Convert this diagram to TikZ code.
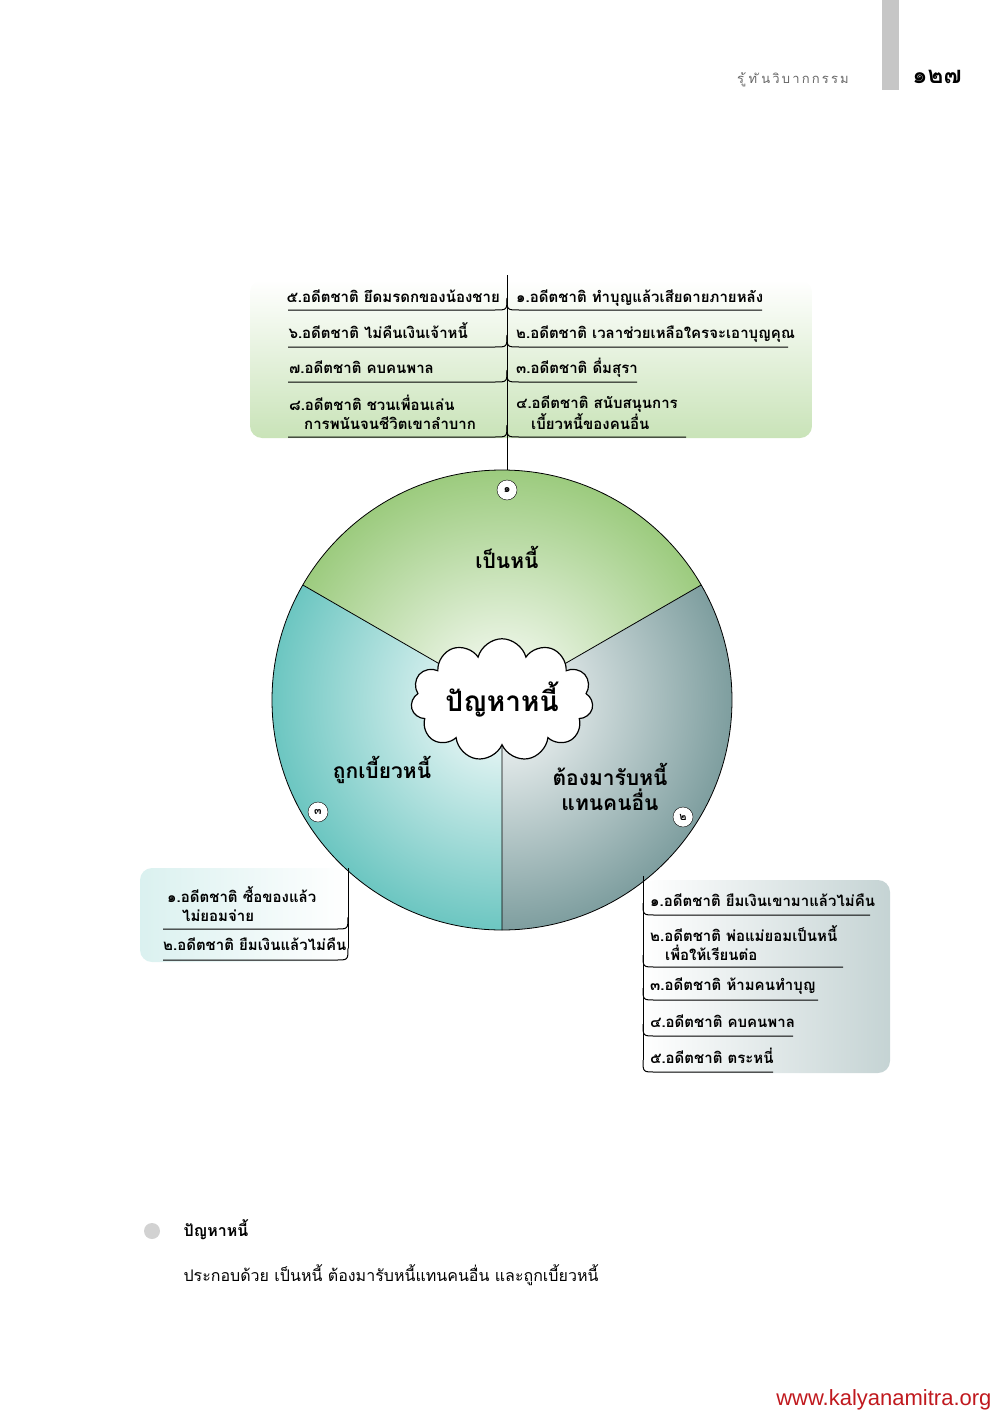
\documentclass[tikz,border=0pt]{standalone}
\usepackage{fontspec}
\usetikzlibrary{shapes.symbols}
\newfontfamily\thai[Script=Thai]{Loma}
\setsansfont{Liberation Sans}
\definecolor{dtgreen}{HTML}{9CCB7E}
\definecolor{dtgray}{HTML}{7E9E9F}
\definecolor{dtteal}{HTML}{6CC6C1}
\definecolor{dtbox}{HTML}{C9E3B8}
\definecolor{dturl}{HTML}{C0191E}
\tikzset{
  item/.style={font=\thai\bfseries\fontsize{15}{19}\selectfont, anchor=base west, inner sep=0pt, align=left},
  itemr/.style={item, anchor=base east, align=right},
  sector/.style={font=\thai\bfseries\fontsize{21}{25}\selectfont, align=center},
  num/.style={circle, draw, fill=white, minimum size=20pt, inner sep=0pt, font=\thai\bfseries\fontsize{11}{11}\selectfont},
  uline/.style={line width=1pt},
}
% underline joining a stem: right side / left side
\newcommand\rline[3]{\draw[uline] (#1,#2-12) .. controls (#1,#2) .. (#1+12,#2) -- (#3,#2);}
\newcommand\lline[3]{\draw[uline] (#3,#2) -- (#1-12,#2) .. controls (#1,#2) .. (#1,#2-12);}
\begin{document}
\begin{tikzpicture}[x=1pt,y=-1pt]
  \useasboundingbox (0,0) rectangle (1000,1415);
  % header
  \fill[gray!45] (882,0) rectangle (899,90);
  \node[font=\thai\fontsize{13}{13}\selectfont, text=gray!80!black] (title) at (793,80) {ร\,ู้\,ท\,ั\,น\,วิ\,บ\,า\,ก\,ก\,ร\,ร\,ม};
  \node[font=\thai\bfseries\fontsize{24}{24}\selectfont] (page) at (937,77) {๑๒๗};

  % boxes
  \shade[top color=white, bottom color=dtbox, rounded corners=12pt] (250,280) rectangle (812,438);
  \shade[left color=dtteal!25, right color=white, rounded corners=12pt] (140,868) rectangle (348,962);
  \shade[left color=white, right color=dtgray!45, rounded corners=12pt] (643,880) rectangle (890,1073);

  % wheel (y axis points down, so angles run clockwise)
  \coordinate (c) at (502,700);
  \begin{scope}
    \clip (c) -- ++(210:230) arc[start angle=210, end angle=330, radius=230] -- cycle;
    \shade[inner color=white, outer color=dtgreen] (c) circle[radius=230];
  \end{scope}
  \begin{scope}
    \clip (c) -- ++(-30:230) arc[start angle=-30, end angle=90, radius=230] -- cycle;
    \shade[inner color=white, outer color=dtgray] (c) circle[radius=230];
  \end{scope}
  \begin{scope}
    \clip (c) -- ++(90:230) arc[start angle=90, end angle=210, radius=230] -- cycle;
    \shade[inner color=white, outer color=dtteal] (c) circle[radius=230];
  \end{scope}
  \draw[thick] (c) circle[radius=230];
  \draw[thick] (c) -- ++(-30:230) (c) -- ++(210:230) (c) -- ++(90:230);

  \node[cloud, cloud puffs=11, aspect=1.9, draw, very thick, fill=white, minimum width=170pt, minimum height=110pt,
        font=\thai\bfseries\fontsize{28}{30}\selectfont] (core) at (c) {ปัญหาหนี้};

  \node[sector] (debt) at (507,557) {เป็นหนี้};
  \node[sector] (other) at (610,787) {ต้องมารับหนี้\\แทนคนอื่น};
  \node[sector] (cheat) at (382,770) {ถูกเบี้ยวหนี้};

  % top branch
  \coordinate (tstem) at (507,275);
  \coordinate (tfoot) at (507,470);
  \draw[uline] (tstem) -- (tfoot);
  \node[num] (n1) at (507,490) {๑};
  \node[item] (t1) at (516,302) {๑.อดีตชาติ ทำบุญแล้วเสียดายภายหลัง};
  \node[item] (t2) at (516,338) {๒.อดีตชาติ เวลาช่วยเหลือใครจะเอาบุญคุณ};
  \node[item] (t3) at (516,373) {๓.อดีตชาติ ดื่มสุรา};
  \node[item] (t4) at (516,429) {๔.อดีตชาติ สนับสนุนการ\\\quad เบี้ยวหนี้ของคนอื่น};
  \rline{507}{310}{762}
  \rline{507}{347}{788}
  \rline{507}{382}{637}
  \rline{507}{437}{686}
  \node[itemr] (t5) at (500,302) {๕.อดีตชาติ ยึดมรดกของน้องชาย};
  \node[itemr] (t6) at (468,338) {๖.อดีตชาติ ไม่คืนเงินเจ้าหนี้};
  \node[item] (t7) at (289,373) {๗.อดีตชาติ คบคนพาล};
  \node[item] (t8) at (289,429) {๘.อดีตชาติ ชวนเพื่อนเล่น\\\quad การพนันจนชีวิตเขาลำบาก};
  \lline{507}{310}{288}
  \lline{507}{347}{288}
  \lline{507}{382}{288}
  \lline{507}{437}{288}

  % right branch
  \node[num] (n2) at (683,817) {๒};
  \coordinate (rstem) at (643,876);
  \draw[uline] (rstem) -- (643,1060);
  \node[item] (r1) at (650,906) {๑.อดีตชาติ ยืมเงินเขามาแล้วไม่คืน};
  \node[item] (r2) at (650,960) {๒.อดีตชาติ พ่อแม่ยอมเป็นหนี้\\\quad เพื่อให้เรียนต่อ};
  \node[item] (r3) at (650,990) {๓.อดีตชาติ ห้ามคนทำบุญ};
  \node[item] (r4) at (650,1027) {๔.อดีตชาติ คบคนพาล};
  \node[item] (r5) at (650,1063) {๕.อดีตชาติ ตระหนี่};
  \rline{643}{915}{870}
  \rline{643}{967}{843}
  \rline{643}{1000}{818}
  \rline{643}{1036}{793}
  \rline{643}{1072}{773}

  % left branch
  \node[num] (n3) at (318,812) {๓};
  \coordinate (lstem) at (348,868);
  \draw[uline] (lstem) -- (348,948);
  \node[item] (l1) at (167,921) {๑.อดีตชาติ ซื้อของแล้ว\\\quad ไม่ยอมจ่าย};
  \node[item] (l2) at (163,950) {๒.อดีตชาติ ยืมเงินแล้วไม่คืน};
  \lline{348}{929}{163}
  \lline{348}{960}{163}

  % caption
  \fill[gray!35] (152,1231) circle[radius=8];
  \node[font=\thai\bfseries\fontsize{16}{16}\selectfont, anchor=base west] (cap) at (180,1236) {ปัญหาหนี้};
  \node[font=\thai\fontsize{16}{16}\selectfont, anchor=base west] (capt) at (180,1281) {ประกอบด้วย เป็นหนี้ ต้องมารับหนี้แทนคนอื่น และถูกเบี้ยวหนี้};
  \node[font=\sffamily\fontsize{22}{22}\selectfont, text=dturl, anchor=base east] (url) at (995,1405) {www.kalyanamitra.org};
\end{tikzpicture}
\end{document}
